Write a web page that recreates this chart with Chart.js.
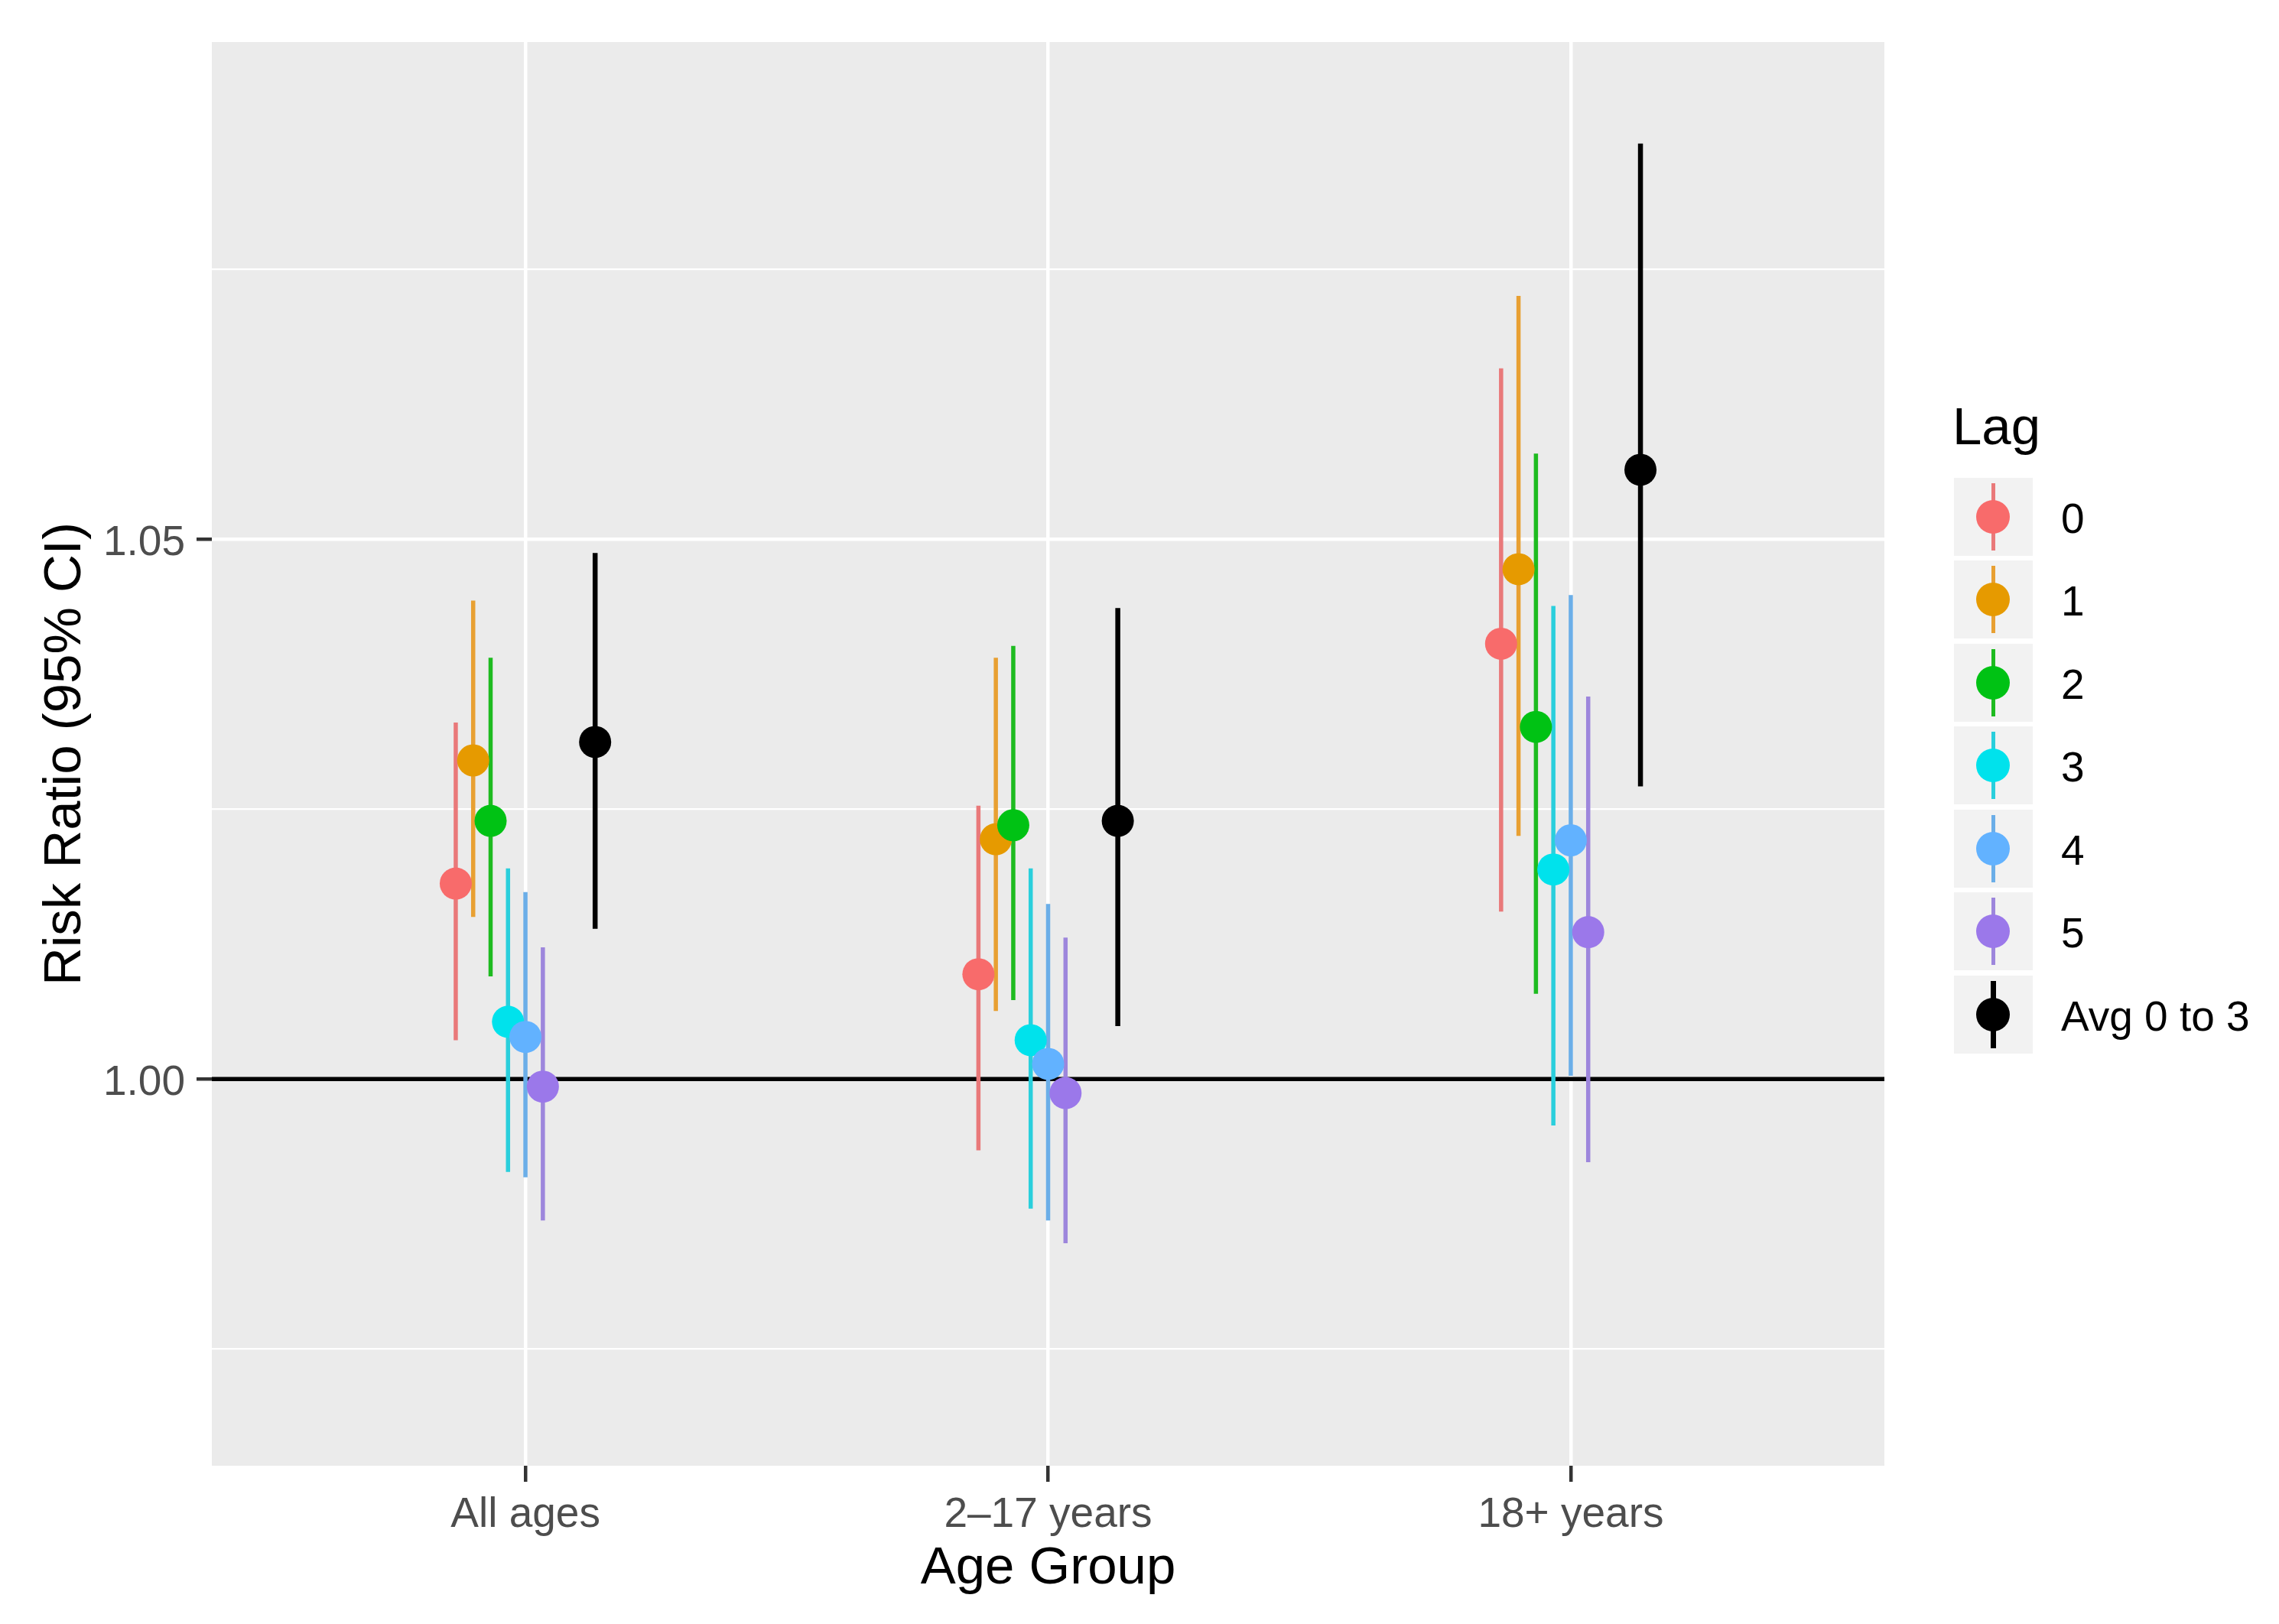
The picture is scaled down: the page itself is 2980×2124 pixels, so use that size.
<!DOCTYPE html>
<html>
<head>
<meta charset="utf-8">
<script src="https://cdn.jsdelivr.net/npm/chart.js@4.4.1/dist/chart.umd.min.js"></script>
<style>
  html, body { margin: 0; padding: 0; background: #fff; }
  #wrap { position: relative; width: 2980px; height: 2124px; font-family: "Liberation Sans", Arial, sans-serif; }
  #rrChart { display: block; }
  .lg-title { position: absolute; left: 2553px; top: 523px; font-size: 69px; line-height: 69px; color: #000; }
  .lg-key { position: absolute; left: 2555px; width: 103px; height: 102px; background: #F2F2F2; }
  .lg-line { position: absolute; top: 7px; bottom: 7px; }
  .lg-dot { position: absolute; left: 29px; top: 29px; width: 44px; height: 44px; border-radius: 50%; }
  .lg-label { position: absolute; left: 2695px; font-size: 55px; line-height: 55px; color: #000; white-space: nowrap; }
</style>
</head>
<body>
<div id="wrap">
  <canvas id="rrChart" width="2980" height="2124"></canvas>
  <div id="legend"></div>
</div>
<script>
// age groups on the x axis
const groups = ['All ages', '2–17 years', '18+ years'];
const lagNames = ['0', '1', '2', '3', '4', '5', 'Avg 0 to 3'];
// position inside each group (ggplot dodge, 9 slots over a width of 0.3)
const dodgeSlot = [-4, -3, -2, -1, 0, 1, 4];

// risk ratio estimates and 95% CI per lag, one value per age group
const rrLag0 = [1.0181, 1.0097, 1.0403];
const loLag0 = [1.0036, 0.9934, 1.0155];
const hiLag0 = [1.0330, 1.0253, 1.0658];

const rrLag1 = [1.0295, 1.0222, 1.0472];
const loLag1 = [1.0150, 1.0063, 1.0225];
const hiLag1 = [1.0443, 1.0390, 1.0725];

const rrLag2 = [1.0239, 1.0235, 1.0326];
const loLag2 = [1.0095, 1.0073, 1.0079];
const hiLag2 = [1.0390, 1.0401, 1.0579];

const rrLag3 = [1.0053, 1.0036, 1.0194];
const loLag3 = [0.9914, 0.9880, 0.9957];
const hiLag3 = [1.0195, 1.0195, 1.0438];

const rrLag4 = [1.0039, 1.0014, 1.0221];
const loLag4 = [0.9909, 0.9869, 1.0003];
const hiLag4 = [1.0173, 1.0162, 1.0448];

const rrLag5 = [0.9993, 0.9987, 1.0136];
const loLag5 = [0.9869, 0.9848, 0.9923];
const hiLag5 = [1.0122, 1.0131, 1.0354];

const rrAvg = [1.0312, 1.0239, 1.0564];
const loAvg = [1.0139, 1.0049, 1.0271];
const hiAvg = [1.0487, 1.0436, 1.0866];

const yTickValues = [0.975, 1.0, 1.025, 1.05, 1.075];
const yTickLabels = ['', '1.00', '', '1.05', ''];

const pointColors = ['#F86B6B', '#E69A00', '#00C214', '#00E2EC', '#62B2FF', '#9B78EA', '#000000'];
const lineColors = ['#E9797A', '#E8A032', '#1EBB20', '#2ACFDC', '#6BAEE8', '#9D86DC', '#000000'];

const estimates = [rrLag0, rrLag1, rrLag2, rrLag3, rrLag4, rrLag5, rrAvg];
const lowers = [loLag0, loLag1, loLag2, loLag3, loLag4, loLag5, loAvg];
const uppers = [hiLag0, hiLag1, hiLag2, hiLag3, hiLag4, hiLag5, hiAvg];

const dodgeStep = 0.3 / 9;
const xMin = -0.6, xMax = 2.6;

const datasets = [];

// reference line at 1
datasets.push({
  data: [{ x: xMin, y: 1 }, { x: xMax, y: 1 }],
  showLine: true,
  borderColor: '#000',
  borderWidth: 5.5,
  pointRadius: 0,
  order: 50
});

lagNames.forEach((name, i) => {
  const xs = groups.map((g, k) => k + dodgeSlot[i] * dodgeStep);
  const bars = [];
  xs.forEach((x, k) => {
    bars.push({ x: x, y: lowers[i][k] });
    bars.push({ x: x, y: uppers[i][k] });
    bars.push({ x: x, y: null });
  });
  datasets.push({
    label: name + ' CI',
    data: bars,
    showLine: true,
    spanGaps: false,
    borderColor: lineColors[i],
    borderWidth: i === 6 ? 6.5 : 5.5,
    borderCapStyle: 'butt',
    pointRadius: 0,
    order: 30 - i
  });
  datasets.push({
    label: name,
    data: xs.map((x, k) => ({ x: x, y: estimates[i][k] })),
    showLine: false,
    pointRadius: 21,
    pointHoverRadius: 21,
    pointBorderWidth: 0,
    pointBackgroundColor: pointColors[i],
    order: 20 - i
  });
});

const panelBg = {
  id: 'panelBg',
  beforeDraw(chart) {
    const { ctx, chartArea: a } = chart;
    ctx.save();
    ctx.fillStyle = '#EBEBEB';
    ctx.fillRect(a.left, a.top, a.right - a.left, a.bottom - a.top);
    ctx.restore();
  }
};

const isMajorY = (v) => yTickLabels[yTickValues.findIndex(t => Math.abs(t - v) < 1e-9)] !== '';

const ctx = document.getElementById('rrChart').getContext('2d');
new Chart(ctx, {
  type: 'scatter',
  data: { datasets: datasets },
  options: {
    responsive: false,
    devicePixelRatio: 1,
    animation: false,
    layout: { padding: { left: 0, top: 55, right: 516, bottom: 0 } },
    plugins: {
      legend: { display: false },
      tooltip: { enabled: false }
    },
    scales: {
      x: {
        type: 'linear',
        min: xMin,
        max: xMax,
        afterBuildTicks: (scale) => { scale.ticks = groups.map((g, k) => ({ value: k })); },
        afterFit: (scale) => { scale.height = 207; },
        border: { display: false },
        grid: {
          color: '#FFFFFF',
          lineWidth: 4.5,
          drawTicks: true,
          tickLength: 21,
          tickColor: '#333333',
          tickWidth: 4.5
        },
        ticks: {
          padding: 11,
          color: '#4D4D4D',
          font: { family: '"Liberation Sans", Arial, sans-serif', size: 55 },
          maxRotation: 0,
          callback: (v) => groups[Math.round(v)]
        },
        title: {
          display: true,
          text: 'Age Group',
          color: '#000',
          font: { family: '"Liberation Sans", Arial, sans-serif', size: 69 },
          padding: { top: 0, bottom: 31 }
        }
      },
      y: {
        type: 'linear',
        min: 0.9642,
        max: 1.0960,
        afterBuildTicks: (scale) => { scale.ticks = yTickValues.map(v => ({ value: v })); },
        afterFit: (scale) => { scale.width = 277; },
        border: { display: false },
        grid: {
          color: '#FFFFFF',
          lineWidth: (c) => (c.tick && isMajorY(c.tick.value) ? 4.5 : 2.3),
          drawTicks: true,
          tickLength: 20,
          tickColor: (c) => (c.tick && isMajorY(c.tick.value) ? '#333333' : 'rgba(0,0,0,0)'),
          tickWidth: 4.5
        },
        ticks: {
          padding: 15,
          labelOffset: 6,
          color: '#4D4D4D',
          font: { family: '"Liberation Sans", Arial, sans-serif', size: 55 },
          callback: (v) => yTickLabels[yTickValues.findIndex(t => Math.abs(t - v) < 1e-9)]
        },
        title: {
          display: true,
          text: 'Risk Ratio (95% CI)',
          color: '#000',
          font: { family: '"Liberation Sans", Arial, sans-serif', size: 69 },
          padding: { top: 45, bottom: 0 }
        }
      }
    }
  },
  plugins: [panelBg]
});

// legend in ggplot style
const legend = document.getElementById('legend');
const title = document.createElement('div');
title.className = 'lg-title';
title.textContent = 'Lag';
legend.appendChild(title);

lagNames.forEach((name, i) => {
  const centre = 675.5 + i * 108.5;
  const key = document.createElement('div');
  key.className = 'lg-key';
  key.style.top = (centre - 51) + 'px';
  const line = document.createElement('div');
  line.className = 'lg-line';
  const w = i === 6 ? 6.5 : 5.5;
  line.style.width = w + 'px';
  line.style.left = (51.5 - w / 2) + 'px';
  line.style.background = lineColors[i];
  const dot = document.createElement('div');
  dot.className = 'lg-dot';
  dot.style.background = pointColors[i];
  key.appendChild(line);
  key.appendChild(dot);
  legend.appendChild(key);

  const label = document.createElement('div');
  label.className = 'lg-label';
  label.style.top = (centre + 2 - 27) + 'px';
  label.textContent = name;
  legend.appendChild(label);
});
</script>
</body>
</html>
